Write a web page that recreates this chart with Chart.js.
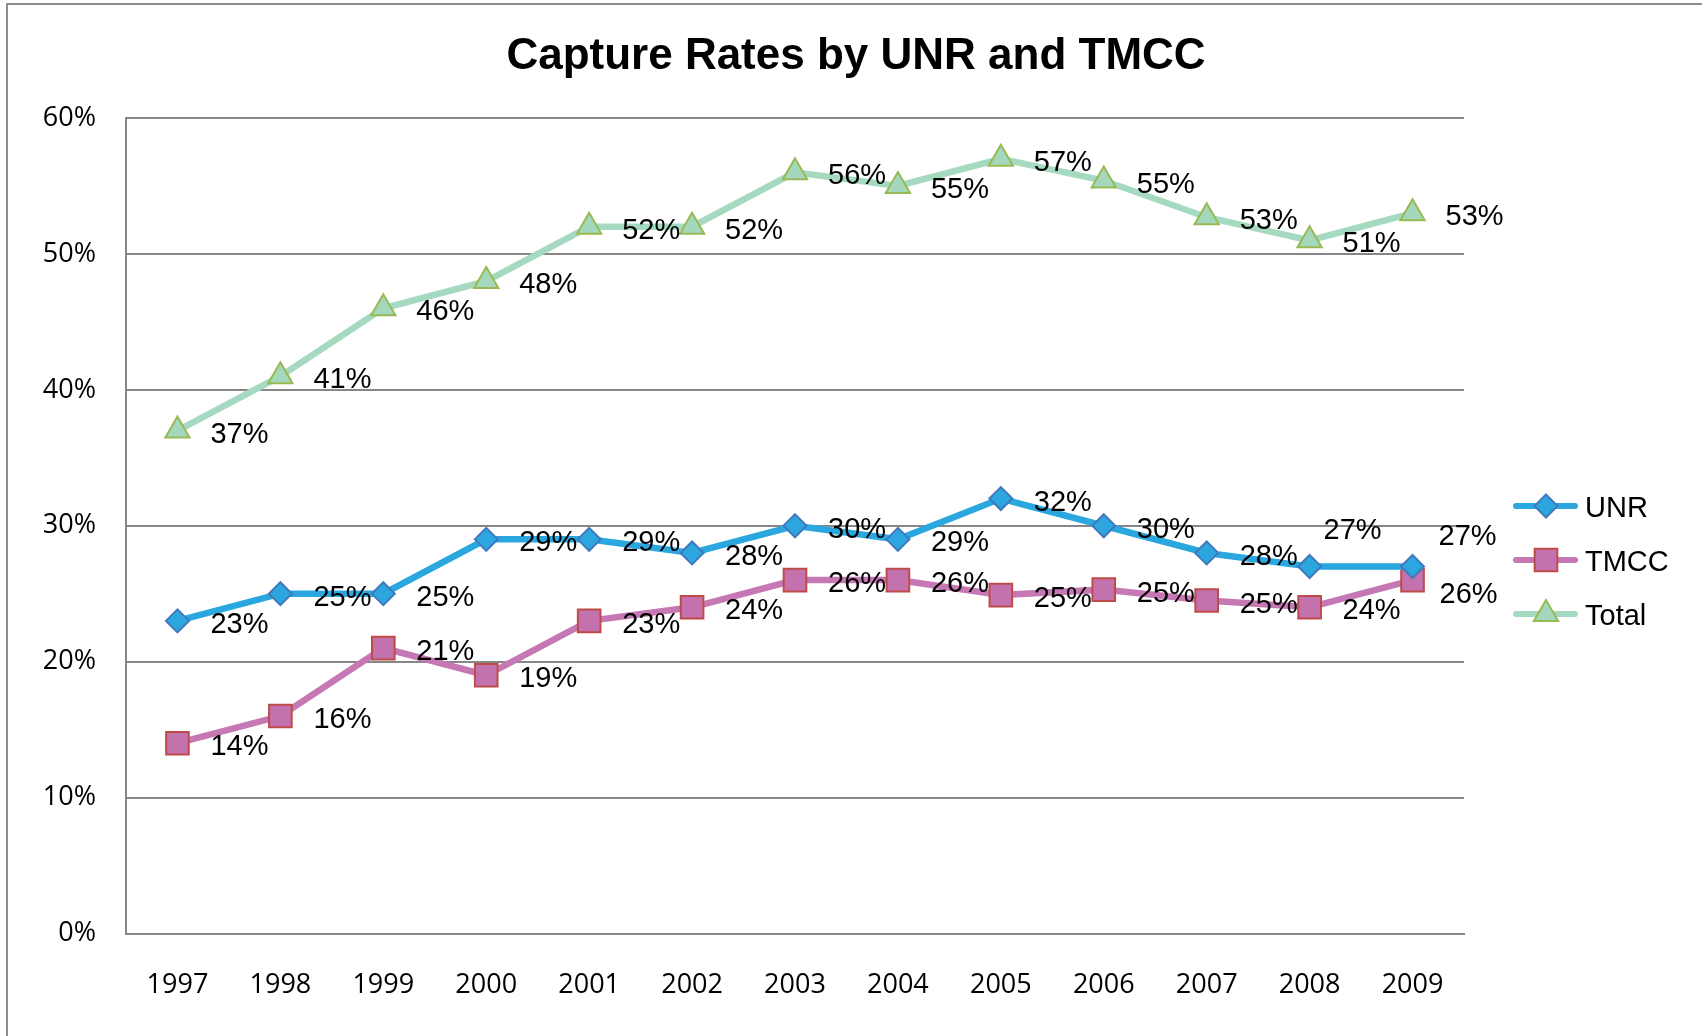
<!DOCTYPE html>
<html>
<head>
<meta charset="utf-8">
<script src="https://cdn.jsdelivr.net/npm/chart.js@4.4.1/dist/chart.umd.min.js"></script>
<style>
  html, body { margin: 0; padding: 0; background: #fff; }
  #wrap { position: relative; width: 1702px; height: 1036px; overflow: hidden; }
  #frame {
    position: absolute; left: 6px; top: 3px; width: 1800px; height: 1100px;
    border-left: 2px solid #8e8e8e; border-top: 2px solid #8e8e8e;
  }
  #chart { position: absolute; left: 0; top: 0; }
</style>
</head>
<body>
<div id="wrap">
  <div id="frame"></div>
  <canvas id="chart" width="1702" height="1036"></canvas>
</div>
<script>
// Data
const years = ["1997", "1998", "1999", "2000", "2001", "2002", "2003", "2004", "2005", "2006", "2007", "2008", "2009"];
const unr = [23, 25, 25, 29, 29, 28, 30, 29, 32, 30, 28, 27, 27];
const tmcc = [14, 16, 21, 19, 23, 24, 26, 26, 24.9, 25.3, 24.5, 24, 26];
const total = [37, 41, 46, 48, 52, 52, 56, 55, 57, 55.4, 52.7, 51, 53];
const yMin = 0;
const yMax = 60;
const yStep = 10;

const chartTitle = "Capture Rates by UNR and TMCC";
const labelFont = '29px "Liberation Sans", Arial, sans-serif';
const tickFont = { family: '"Open Sans", sans-serif', size: 27 };
const gridColor = "#878787";

// default data-label shift from the point, plus a few that sit elsewhere
const labelShift = { dx: 33, dy: 4 };
const labelShiftExceptions = {
  "0:11": [14, -36],
  "0:12": [26, -30],
  "1:12": [27, 15],
};

// Title drawn centred on the whole picture
const titlePlugin = {
  id: "bigTitle",
  afterDraw(chart) {
    const ctx = chart.ctx;
    ctx.save();
    ctx.font = 'bold 44px "Liberation Sans", Arial, sans-serif';
    ctx.fillStyle = "#000";
    ctx.textAlign = "center";
    ctx.textBaseline = "middle";
    ctx.fillText(chartTitle, 856, 57);
    ctx.restore();
  },
};

// Percent labels next to every point
const pointLabelPlugin = {
  id: "pointLabels",
  afterDatasetsDraw(chart) {
    const ctx = chart.ctx;
    ctx.save();
    ctx.font = labelFont;
    ctx.fillStyle = "#000";
    ctx.textAlign = "left";
    ctx.textBaseline = "middle";
    chart.data.datasets.forEach((ds, di) => {
      chart.getDatasetMeta(di).data.forEach((pt, i) => {
        const ex = labelShiftExceptions[di + ":" + i];
        const dx = ex ? ex[0] : labelShift.dx;
        const dy = ex ? ex[1] : labelShift.dy;
        ctx.fillText(Math.round(ds.data[i]) + "%", pt.x + dx, pt.y + dy);
      });
    });
    ctx.restore();
  },
};

// Legend on the right: line sample + marker + name
const sideLegendPlugin = {
  id: "sideLegend",
  afterDraw(chart) {
    const ctx = chart.ctx;
    ctx.save();
    chart.data.datasets.forEach((ds, i) => {
      const y = 506 + i * 54;
      ctx.strokeStyle = ds.borderColor;
      ctx.lineWidth = 6;
      ctx.lineCap = "round";
      ctx.beginPath();
      ctx.moveTo(1516, y);
      ctx.lineTo(1575, y);
      ctx.stroke();

      ctx.fillStyle = ds.pointBackgroundColor;
      ctx.strokeStyle = ds.pointBorderColor;
      ctx.lineWidth = ds.pointBorderWidth;
      Chart.helpers.drawPoint(ctx, {
        pointStyle: ds.pointStyle,
        radius: ds.pointRadius,
        rotation: 0,
        borderWidth: ds.pointBorderWidth,
      }, 1546, y);

      ctx.fillStyle = "#000";
      ctx.font = labelFont;
      ctx.textAlign = "left";
      ctx.textBaseline = "middle";
      ctx.fillText(ds.label, 1585, y + 3);
    });
    ctx.restore();
  },
};

const chart = new Chart(document.getElementById("chart").getContext("2d"), {
  type: "line",
  data: {
    labels: years,
    datasets: [
      {
        label: "UNR",
        data: unr,
        borderColor: "#2aa7df",
        borderWidth: 6.5,
        pointStyle: "rectRot",
        pointRadius: 11.5,
        pointBackgroundColor: "#2ba6de",
        pointBorderColor: "#4279bd",
        pointBorderWidth: 2,
      },
      {
        label: "TMCC",
        data: tmcc,
        borderColor: "#c678b4",
        borderWidth: 6.5,
        pointStyle: "rect",
        pointRadius: 16,
        pointBackgroundColor: "#c372ae",
        pointBorderColor: "#be4b48",
        pointBorderWidth: 2,
      },
      {
        label: "Total",
        data: total,
        borderColor: "#a6dac0",
        borderWidth: 6.5,
        pointStyle: "triangle",
        pointRadius: 14,
        pointBackgroundColor: "#a4d8bd",
        pointBorderColor: "#98b954",
        pointBorderWidth: 2,
      },
    ],
  },
  options: {
    responsive: false,
    devicePixelRatio: 1,
    animation: false,
    layout: { padding: { top: 118, right: 238, left: 0, bottom: 0 } },
    elements: { line: { tension: 0 } },
    plugins: {
      legend: { display: false },
      title: { display: false },
      tooltip: { enabled: false },
    },
    scales: {
      x: {
        offset: true,
        grid: { display: false, drawTicks: false },
        border: { display: true, color: gridColor, width: 2 },
        ticks: { color: "#000", font: tickFont, padding: 36, maxRotation: 0 },
        afterFit(scale) { scale.height = 102.5; },
      },
      y: {
        min: yMin,
        max: yMax,
        grid: { color: gridColor, lineWidth: 2, drawTicks: false },
        border: { display: true, color: gridColor, width: 2 },
        ticks: {
          stepSize: yStep,
          color: "#000",
          font: tickFont,
          padding: 30,
          callback: (v) => v + "%",
        },
        afterFit(scale) { scale.width = 126; },
      },
    },
  },
  plugins: [pointLabelPlugin, sideLegendPlugin, titlePlugin],
});
</script>
</body>
</html>
